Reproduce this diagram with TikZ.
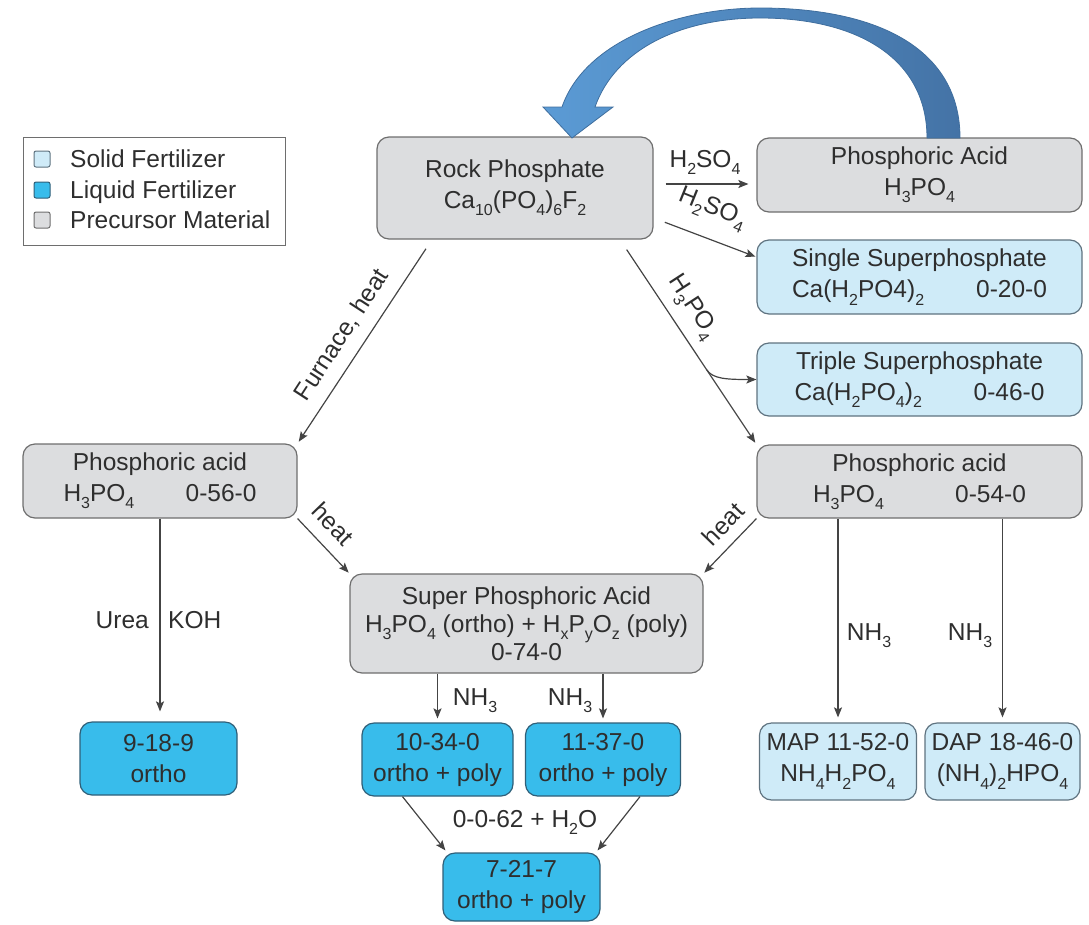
\documentclass[tikz,border=0pt]{standalone}
\usepackage{fontspec}
\setmainfont{Liberation Sans}
\usetikzlibrary{arrows.meta}
\definecolor{grayfill}{HTML}{DCDDDF}
\definecolor{solidfill}{HTML}{CFEBF8}
\definecolor{liquidfill}{HTML}{38BCEB}
\definecolor{grayline}{HTML}{6E6E6E}
\definecolor{solidline}{HTML}{5F7380}
\definecolor{liquidline}{HTML}{2F5F78}
\definecolor{txt}{HTML}{2E2E2E}
\definecolor{conncol}{HTML}{444444}
\definecolor{arrowL}{HTML}{5B9BD5}
\definecolor{arrowR}{HTML}{4473A6}
\definecolor{arrowO}{HTML}{3F6E9E}
\newcommand{\sbs}[1]{\raisebox{-0.3em}{\fontsize{16}{16}\selectfont #1}}
\begin{document}
\begin{tikzpicture}[x=1pt,y=-1pt,
  box/.style={line width=1.2pt, rounded corners=12pt, text=txt, align=center, inner sep=0pt,
    font=\fontsize{24.5}{31}\selectfont},
  pre/.style={box, draw=grayline, fill=grayfill},
  sol/.style={box, draw=solidline, fill=solidfill},
  liq/.style={box, draw=liquidline, fill=liquidfill},
  conn/.style={draw=conncol, line width=1.2pt, -{Stealth[length=10pt,width=8pt,inset=2pt]}},
  lbl/.style={text=txt, font=\fontsize{24.5}{28}\selectfont, inner sep=0pt},
  lsq/.style={line width=1pt, rounded corners=2pt, minimum size=16pt, inner sep=0pt},
]
\useasboundingbox (0,0) rectangle (1089,924);

% legend
\node[draw=grayline, line width=1pt, minimum width=262pt, minimum height=108pt, inner sep=0pt] (legend) at (154,191) {};
\node[lsq, draw=solidline, fill=solidfill] (sq1) at (42,159) {};
\node[lsq, draw=liquidline, fill=liquidfill] (sq2) at (42,190) {};
\node[lsq, draw=grayline, fill=grayfill] (sq3) at (42,220) {};
\node[lbl, anchor=base west] (lt1) at (70,167) {Solid Fertilizer};
\node[lbl, anchor=base west] (lt2) at (70,198) {Liquid Fertilizer};
\node[lbl, anchor=base west] (lt3) at (70,228) {Precursor Material};

% boxes
\node[pre, minimum width=276pt, minimum height=102pt] (rock) at (515,188)
  {Rock Phosphate\\Ca\sbs{10}(PO\sbs{4})\sbs{6}F\sbs{2}};
\node[pre, minimum width=325pt, minimum height=74pt] (pa) at (919.5,175)
  {Phosphoric Acid\\H\sbs{3}PO\sbs{4}};
\node[sol, minimum width=325pt, minimum height=74pt] (ssp) at (919.5,277)
  {Single Superphosphate\\\makebox[255pt]{Ca(H\sbs{2}PO4)\sbs{2}\hfill 0-20-0}};
\node[sol, minimum width=325pt, minimum height=73pt] (tsp) at (919.5,379.5)
  {Triple Superphosphate\\\makebox[250pt]{Ca(H\sbs{2}PO\sbs{4})\sbs{2}\hfill 0-46-0}};
\node[pre, minimum width=325pt, minimum height=73pt] (par) at (919.5,481.5)
  {Phosphoric acid\\\makebox[213pt]{H\sbs{3}PO\sbs{4}\hfill 0-54-0}};
\node[pre, minimum width=274pt, minimum height=74pt] (pal) at (160,481)
  {Phosphoric acid\\\makebox[193pt]{H\sbs{3}PO\sbs{4}\hfill 0-56-0}};
\node[pre, minimum width=353pt, minimum height=99pt, font=\fontsize{24.5}{28}\selectfont] (spa) at (526.5,623.5)
  {Super Phosphoric Acid\\H\sbs{3}PO\sbs{4} (ortho) + H\sbs{x}P\sbs{y}O\sbs{z} (poly)\\0-74-0};
\node[liq, minimum width=157pt, minimum height=73pt] (n9189) at (158.5,758.5) {9-18-9\\ortho};
\node[liq, minimum width=151pt, minimum height=73pt] (n10340) at (437.5,759.5) {10-34-0\\ortho + poly};
\node[liq, minimum width=155pt, minimum height=73pt] (n11370) at (603,759.5) {11-37-0\\ortho + poly};
\node[sol, minimum width=157pt, minimum height=77pt] (map) at (838,761.5)
  {MAP 11-52-0\\NH\sbs{4}H\sbs{2}PO\sbs{4}};
\node[sol, minimum width=155pt, minimum height=77pt] (dap) at (1002.5,761.5)
  {DAP 18-46-0\\(NH\sbs{4})\sbs{2}HPO\sbs{4}};
\node[liq, minimum width=157pt, minimum height=68pt] (n7217) at (521.5,887) {7-21-7\\ortho + poly};

% connectors
\draw[conn, shorten <=12pt, shorten >=8pt] ([yshift=4pt]rock.east) -- ([yshift=4pt]rock.east -| pa.west);
\draw[conn, shorten <=12pt, shorten >=1pt] ([yshift=-30pt]rock.east) -- ([yshift=20pt]ssp.west);
\draw[conn, shorten <=12pt, shorten >=2pt] ([xshift=105pt]rock.south) -- coordinate[pos=0.636] (br) (par.north west);
\draw[conn] (br) .. controls +(6,9) and +(-30,0) .. (tsp.west);
\draw[conn, shorten <=11pt, shorten >=2pt] ([xshift=-83pt]rock.south) -- (pal.north east);
\draw[conn, shorten >=1pt] (pal.south east) -- (spa.north west);
\draw[conn, shorten >=1pt] (par.south west) -- (spa.north east);
\draw[conn, shorten >=10pt] (pal.south) -- (pal.south |- n9189.north);
\draw[conn, shorten >=4pt] (n10340.north |- spa.south) -- (n10340.north);
\draw[conn, shorten >=4pt] (n11370.north |- spa.south) -- (n11370.north);
\draw[conn, shorten >=5pt] (map.north |- par.south) -- (map.north);
\draw[conn, shorten >=5pt] (dap.north |- par.south) -- (dap.north);
\draw[conn] ([xshift=-35pt]n10340.south) -- ([xshift=3pt,yshift=2pt]n7217.north west);
\draw[conn] ([xshift=37pt]n11370.south) -- ([xshift=-3pt,yshift=2pt]n7217.north east);

% connector labels
\node[lbl, anchor=base] (lh2so4a) at (705,167) {H\sbs{2}SO\sbs{4}};
\node[lbl, rotate=-22] (lh2so4b) at (712,209) {H\sbs{2}SO\sbs{4}};
\node[lbl, rotate=-57] (lh3po4) at (692,308) {H\sbs{3}PO\sbs{4}};
\node[lbl, rotate=57] (lfurn) at (342,335) {Furnace, heat};
\node[lbl, rotate=-46] (lheatl) at (333,524) {heat};
\node[lbl, rotate=46] (lheatr) at (723,524) {heat};
\node[lbl, anchor=base east] (lurea) at (149,628) {Urea};
\node[lbl, anchor=base west] (lkoh) at (168,628) {KOH};
\node[lbl, anchor=base] (lnh1) at (475,705) {NH\sbs{3}};
\node[lbl, anchor=base] (lnh2) at (570,705) {NH\sbs{3}};
\node[lbl, anchor=base] (lnh3) at (869,640) {NH\sbs{3}};
\node[lbl, anchor=base] (lnh4) at (970,640) {NH\sbs{3}};
\node[lbl, anchor=base] (lkoh2) at (525,827) {0-0-62 + H\sbs{2}O};

% big curved recycle arrow
\path[draw=arrowO, line width=0.8pt, left color=arrowL, right color=arrowR]
  (562,107) .. controls (585,40) and (680,8) .. (760,8)
  .. controls (880,8) and (960,50) .. (960,138)
  -- (927,138)
  .. controls (927,60) and (860,18) .. (760,18)
  .. controls (680,18) and (615,50) .. (595,107)
  -- (613,107) -- (572,138) -- (543,107) -- cycle;
\end{tikzpicture}
\end{document}
